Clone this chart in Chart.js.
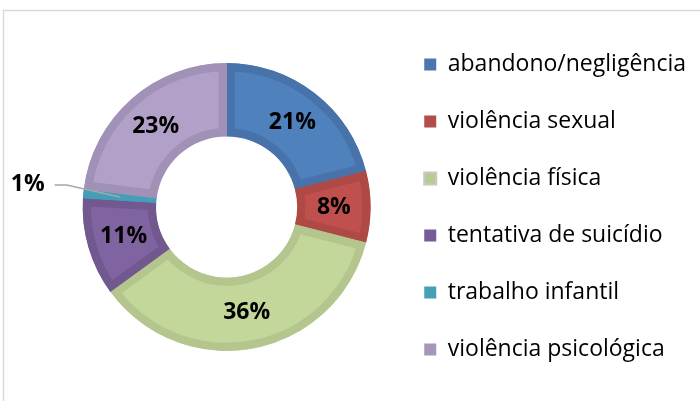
<!DOCTYPE html>
<html>
<head>
<meta charset="utf-8">
<script src="https://cdn.jsdelivr.net/npm/chart.js@4.4.0/dist/chart.umd.min.js"></script>
<style>
  html, body { margin: 0; padding: 0; background: #fff; }
  #wrap { width: 700px; height: 401px; }
</style>
</head>
<body>
<div id="wrap"><canvas id="myChart" width="700" height="401"></canvas></div>
<script>
const categories = ['abandono/negligência', 'violência sexual', 'violência física',
                    'tentativa de suicídio', 'trabalho infantil', 'violência psicológica'];
const percents = [21, 8, 36, 11, 1, 23];
const fillColors = ['#4F81BD', '#C0504D', '#C4D79B', '#8064A2', '#4BACC6', '#B1A0C7'];
const bandColors = ['#4772AA', '#AE4946', '#B4C68D', '#71588F', '#439FB8', '#A291B7'];
const swatchColors = ['#4A76AF', '#B34D4A', '#B9CC90', '#775A96', '#459FB6', '#A596BA'];

// labels on the ring, the tiny slice gets a leader line outside
const sliceLabels = {
  id: 'sliceLabels',
  afterDatasetsDraw(chart) {
    const ctx = chart.ctx;
    const meta = chart.getDatasetMeta(0);
    ctx.save();
    ctx.font = 'bold 23px "Open Sans"';
    ctx.fillStyle = '#000';
    ctx.textBaseline = 'middle';
    meta.data.forEach((arc, i) => {
      const p = arc.tooltipPosition();
      const txt = percents[i] + '%';
      if (percents[i] < 3) {
        const r = arc.outerRadius;
        const ex = arc.x - r - 16, ey = p.y - 12;
        ctx.strokeStyle = '#A6A6A6';
        ctx.lineWidth = 1.5;
        ctx.beginPath();
        ctx.moveTo(p.x, p.y);
        ctx.lineTo(ex, ey);
        ctx.lineTo(ex - 12, ey);
        ctx.stroke();
        ctx.textAlign = 'right';
        ctx.fillText(txt, ex - 22, ey);
      } else {
        ctx.textAlign = 'center';
        ctx.fillText(txt, p.x, p.y);
      }
    });
    ctx.restore();
  }
};

// light frame of the chart area (top and left edges visible)
const frame = {
  id: 'frame',
  beforeDraw(chart) {
    const ctx = chart.ctx;
    ctx.save();
    ctx.strokeStyle = '#D9D9D9';
    ctx.lineWidth = 1.5;
    ctx.beginPath();
    ctx.moveTo(3.5, 401);
    ctx.lineTo(3.5, 10.5);
    ctx.lineTo(700, 10.5);
    ctx.stroke();
    ctx.restore();
  }
};

const ctx = document.getElementById('myChart').getContext('2d');
const myChart = new Chart(ctx, {
  type: 'doughnut',
  data: {
    labels: categories,
    datasets: [{
      data: percents,
      backgroundColor: fillColors,
      borderColor: bandColors,
      borderWidth: 8,
      borderAlign: 'inner',
      hoverOffset: 0
    }]
  },
  options: {
    responsive: false,
    animation: false,
    events: [],
    radius: 144,
    cutout: '49%',
    layout: { padding: { left: 63, right: 4, top: 17, bottom: 4 } },
    plugins: {
      tooltip: { enabled: false },
      legend: {
        position: 'right',
        labels: {
          boxWidth: 12,
          boxHeight: 12,
          padding: 34,
          color: '#000',
          font: { family: '"Open Sans"', size: 23 },
          generateLabels(chart) {
            return categories.map((c, i) => ({
              text: c,
              fillStyle: swatchColors[i],
              strokeStyle: i === 2 ? '#C8C8C8' : swatchColors[i],
              lineWidth: i === 2 ? 2 : 0,
              hidden: false,
              index: i
            }));
          }
        }
      }
    }
  },
  plugins: [frame, sliceLabels]
});
</script>
</body>
</html>
